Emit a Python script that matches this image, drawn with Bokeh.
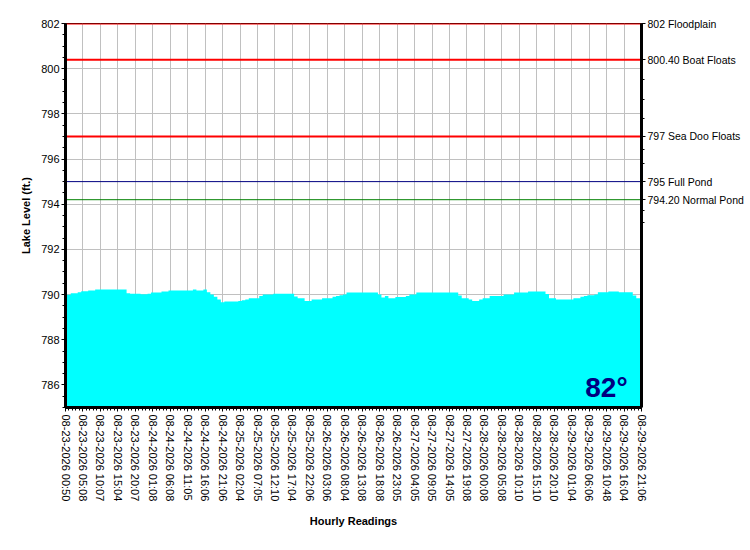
from bokeh.plotting import figure
from bokeh.models import Range1d, LinearAxis, FixedTicker, Label, ColumnDataSource
from bokeh.embed import file_html
from bokeh.resources import INLINE

# ---------------- data ----------------
lake_level = [
    789.99, 789.99, 790.06, 790.06, 790.10, 790.15, 790.15, 790.18, 790.18, 790.22,
    790.22, 790.22, 790.22, 790.22, 790.22, 790.22, 790.22, 790.22, 790.06, 790.04,
    790.04, 790.04, 790.01, 790.01, 790.04, 790.09, 790.09, 790.09, 790.13, 790.13,
    790.18, 790.18, 790.18, 790.18, 790.18, 790.18, 790.18, 790.22, 790.18, 790.18,
    790.22, 790.10, 790.00, 789.90, 789.78, 789.66, 789.69, 789.69, 789.69, 789.69,
    789.72, 789.75, 789.78, 789.84, 789.84, 789.84, 789.94, 790.00, 790.00, 790.00,
    790.04, 790.04, 790.04, 790.04, 790.04, 790.04, 789.91, 789.84, 789.84, 789.72,
    789.72, 789.78, 789.78, 789.78, 789.84, 789.84, 789.84, 789.90, 789.94, 789.97,
    790.00, 790.09, 790.09, 790.09, 790.09, 790.09, 790.09, 790.09, 790.09, 790.09,
    790.00, 789.87, 789.94, 789.84, 789.84, 789.89, 789.89, 789.89, 789.94, 790.00,
    790.00, 790.09, 790.09, 790.09, 790.09, 790.09, 790.09, 790.09, 790.09, 790.09,
    790.09, 790.09, 790.09, 789.96, 789.84, 789.84, 789.78, 789.71, 789.71, 789.78,
    789.84, 789.84, 789.94, 789.94, 789.94, 789.94, 790.00, 790.00, 790.00, 790.09,
    790.09, 790.09, 790.09, 790.13, 790.13, 790.13, 790.13, 790.13, 790.03, 789.84,
    789.84, 789.78, 789.78, 789.78, 789.78, 789.78, 789.84, 789.84, 789.90, 789.94,
    789.97, 789.97, 790.00, 790.10, 790.10, 790.10, 790.13, 790.13, 790.13, 790.10,
    790.10, 790.10, 790.10, 789.96, 789.84, 789.84,
]

time_labels = [
    "08-23-2026 00:50", "08-23-2026 05:08", "08-23-2026 10:07", "08-23-2026 15:04", "08-23-2026 20:07",
    "08-24-2026 01:08", "08-24-2026 06:08", "08-24-2026 11:05", "08-24-2026 16:06", "08-24-2026 21:06",
    "08-25-2026 02:04", "08-25-2026 07:05", "08-25-2026 12:10", "08-25-2026 17:04", "08-25-2026 22:06",
    "08-26-2026 03:06", "08-26-2026 08:04", "08-26-2026 13:08", "08-26-2026 18:08", "08-26-2026 23:05",
    "08-27-2026 04:05", "08-27-2026 09:05", "08-27-2026 14:05", "08-27-2026 19:08",
    "08-28-2026 00:08", "08-28-2026 05:08", "08-28-2026 10:10", "08-28-2026 15:10", "08-28-2026 20:10",
    "08-29-2026 01:04", "08-29-2026 06:06", "08-29-2026 10:48", "08-29-2026 16:04", "08-29-2026 21:06",
]
label_every = 5  # one label every 5 readings

ref_levels = [802.0, 800.4, 797.0, 795.0, 794.2]
ref_names = ["802 Floodplain", "800.40 Boat Floats", "797 Sea Doo Floats", "795 Full Pond", "794.20 Normal Pond"]
ref_colors = ["#ff0000", "#ff0000", "#ff0000", "#000080", "#008000"]
ref_widths = [2, 2, 2, 1, 1]

y_ticks = [786, 788, 790, 792, 794, 796, 798, 800, 802]
y_min, y_max = 785, 802
temp_label = "82°"

# ---------------- figure ----------------
FONT = "Liberation Sans"
n = len(lake_level)
xs = list(range(n))

p = figure(width=748, height=534, output_backend="svg", toolbar_location=None,
           x_range=Range1d(0, n - 1), y_range=Range1d(y_min, y_max),
           min_border_left=65, min_border_right=107, min_border_top=23, min_border_bottom=127,
           background_fill_color="white", border_fill_color="white")
p.outline_line_color = "black"
p.outline_line_width = 1

# grids
p.xgrid.ticker = FixedTicker(ticks=[i * label_every for i in range(len(time_labels))])
p.ygrid.ticker = FixedTicker(ticks=y_ticks)
for g in (p.xgrid[0], p.ygrid[0]):
    g.grid_line_color = "#c0c0c0"
    g.grid_line_width = 1

# fill
src = ColumnDataSource(dict(x=xs, y=lake_level, base=[y_min] * n))
p.varea_step(x="x", y1="base", y2="y", step_mode="center", source=src, fill_color="#00ffff", fill_alpha=1)

# reference lines
for lvl, col, w in zip(ref_levels, ref_colors, ref_widths):
    p.line(x=[0, n - 1], y=[lvl, lvl], line_color=col, line_width=w)

# x axis
xa = p.xaxis[0]
x_major = [i * label_every for i in range(len(time_labels))]
xa.ticker = FixedTicker(ticks=x_major, minor_ticks=xs)
xa.major_label_overrides = {t: lab for t, lab in zip(x_major, time_labels)}
xa.major_label_orientation = "vertical"
xa.axis_label = "Hourly Readings"

# y axis (left)
ya = p.yaxis[0]
ya.ticker = FixedTicker(ticks=y_ticks, minor_ticks=[y_min + 0.5 * k for k in range(int((y_max - y_min) * 2) + 1)])
ya.axis_label = "Lake Level (ft.)"

# right axis
ra = LinearAxis(ticker=FixedTicker(ticks=ref_levels, minor_ticks=[799.5, 798.65, 797.8, 796.4, 795.8, 793.7, 793.2]))
ra.major_label_overrides = {lvl: name for lvl, name in zip(ref_levels, ref_names)}
p.add_layout(ra, "right")

for ax in (xa, ya, ra):
    ax.axis_line_color = "black"
    ax.axis_line_width = 3
    ax.major_tick_line_color = "black"
    ax.minor_tick_line_color = "black"
    ax.major_tick_in = 0
    ax.minor_tick_in = 0
    ax.major_tick_out = 4
    ax.minor_tick_out = 3
    ax.major_label_text_font = FONT
    ax.major_label_text_font_size = "11px"
    ax.major_label_text_color = "black"
    ax.major_label_standoff = 2
    ax.axis_label_text_font = FONT
    ax.axis_label_text_font_size = "11px"
    ax.axis_label_text_font_style = "bold"
    ax.axis_label_text_color = "black"
    ax.axis_label_standoff = 6
ra.major_label_text_font_size = "10.5px"
xa.axis_label_standoff = 11
xa.major_label_standoff = 3

p.add_layout(Label(x=148.9, y=785.9, text=temp_label, text_font=FONT, text_font_size="28px",
                   text_font_style="bold", text_color="#000080", text_align="left",
                   text_baseline="alphabetic"))

open("out.html", "w").write(file_html(p, INLINE))
